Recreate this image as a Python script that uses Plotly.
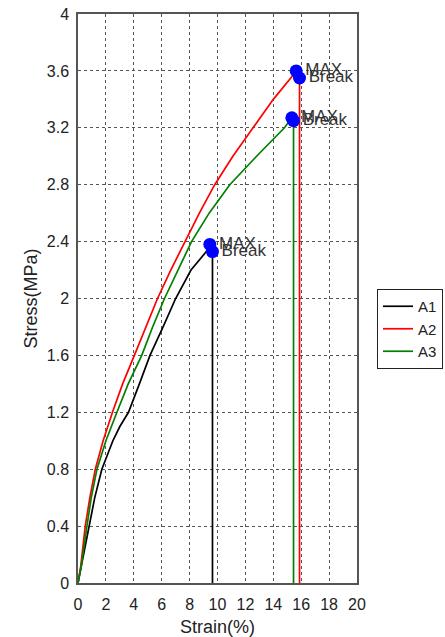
import plotly.graph_objects as go

# ---- data ----
a1_strain = [0, 0.3, 0.76, 1.2, 1.71, 2.5, 3.0, 3.62, 4.4, 5.16, 6.1, 7.0, 8.1, 9.2, 9.45, 9.64, 9.64]
a1_stress = [0, 0.15, 0.40, 0.60, 0.80, 1.00, 1.10, 1.20, 1.40, 1.60, 1.80, 2.00, 2.20, 2.33, 2.38, 2.33, 0]

a2_strain = [0, 0.2, 0.52, 0.85, 1.24, 1.8, 2.47, 3.2, 4.04, 4.85, 5.7, 6.65, 7.66, 8.7, 9.8,
             11.1, 12.55, 14.0, 15.5, 15.64, 15.88, 15.88]
a2_stress = [0, 0.12, 0.40, 0.60, 0.80, 1.00, 1.20, 1.40, 1.60, 1.80, 2.00, 2.20, 2.40, 2.60, 2.80,
             3.00, 3.20, 3.40, 3.58, 3.60, 3.55, 0]

a3_strain = [0, 0.25, 0.64, 0.95, 1.36, 2.0, 2.79, 3.6, 4.57, 5.35, 6.2, 7.15, 8.14, 9.4, 10.88,
             12.8, 14.8, 15.33, 15.45, 15.45]
a3_stress = [0, 0.13, 0.40, 0.60, 0.80, 1.00, 1.20, 1.40, 1.60, 1.80, 2.00, 2.20, 2.40, 2.60, 2.80,
             3.00, 3.20, 3.27, 3.25, 0]

max_strain = [9.45, 15.64, 15.33]
max_stress = [2.38, 3.60, 3.27]
break_strain = [9.64, 15.88, 15.45]
break_stress = [2.33, 3.55, 3.25]

series_names = ["A1", "A2", "A3"]
series_colors = ["#000000", "#ff0000", "#008000"]

y_ticks = [0, 0.4, 0.8, 1.2, 1.6, 2, 2.4, 2.8, 3.2, 3.6, 4]
y_tick_labels = ["0", "0.4", "0.8", "1.2", "1.6", "2", "2.4", "2.8", "3.2", "3.6", "4"]
x_ticks = [0, 2, 4, 6, 8, 10, 12, 14, 16, 18, 20]

FONT = "Liberation Sans, Arial, sans-serif"

fig = go.Figure()
for name, color, xs, ys in zip(series_names, series_colors,
                               [a1_strain, a2_strain, a3_strain],
                               [a1_stress, a2_stress, a3_stress]):
    fig.add_trace(go.Scatter(x=xs, y=ys, mode="lines", name=name,
                             line=dict(color=color, width=1.7)))

fig.add_trace(go.Scatter(x=max_strain, y=max_stress, mode="markers+text",
                         text=["MAX"] * 3, textposition="middle right",
                         textfont=dict(family=FONT, size=17, color="#333333"),
                         marker=dict(color="#0000ff", size=13),
                         showlegend=False, hoverinfo="skip"))
fig.add_trace(go.Scatter(x=break_strain, y=break_stress, mode="markers+text",
                         text=["Break"] * 3, textposition="middle right",
                         textfont=dict(family=FONT, size=17, color="#333333"),
                         marker=dict(color="#0000ff", size=13),
                         showlegend=False, hoverinfo="skip"))

axis_common = dict(
    showgrid=True, gridcolor="#555555", griddash="dot", gridwidth=1,
    showline=True, linecolor="#555555", linewidth=1.5, mirror=True,
    zeroline=False, ticks="",
    tickfont=dict(family=FONT, size=16, color="#222222"),
    title_font=dict(family=FONT, size=18, color="#222222"),
)

fig.update_xaxes(range=[0, 20], tickvals=x_ticks, title_text="Strain(%)",
                 ticklabelstandoff=6, title_standoff=8, **axis_common)
fig.update_yaxes(range=[0, 4], tickvals=y_ticks, ticktext=y_tick_labels,
                 ticklabelstandoff=4, title_text="Stress(MPa)", title_standoff=4,
                 **axis_common)

fig.update_layout(
    width=445, height=637,
    margin=dict(l=78, r=88, t=14, b=54, autoexpand=False),
    paper_bgcolor="white", plot_bgcolor="white",
    font=dict(family=FONT, color="#222222"),
    legend=dict(xref="container", yref="container",
                x=377 / 445, y=1 - 289 / 637, xanchor="left", yanchor="top",
                bordercolor="#222222", borderwidth=1,
                font=dict(family=FONT, size=15, color="#222222"),
                itemwidth=30, tracegroupgap=0, bgcolor="white"),
)

fig.write_html("out.html")
